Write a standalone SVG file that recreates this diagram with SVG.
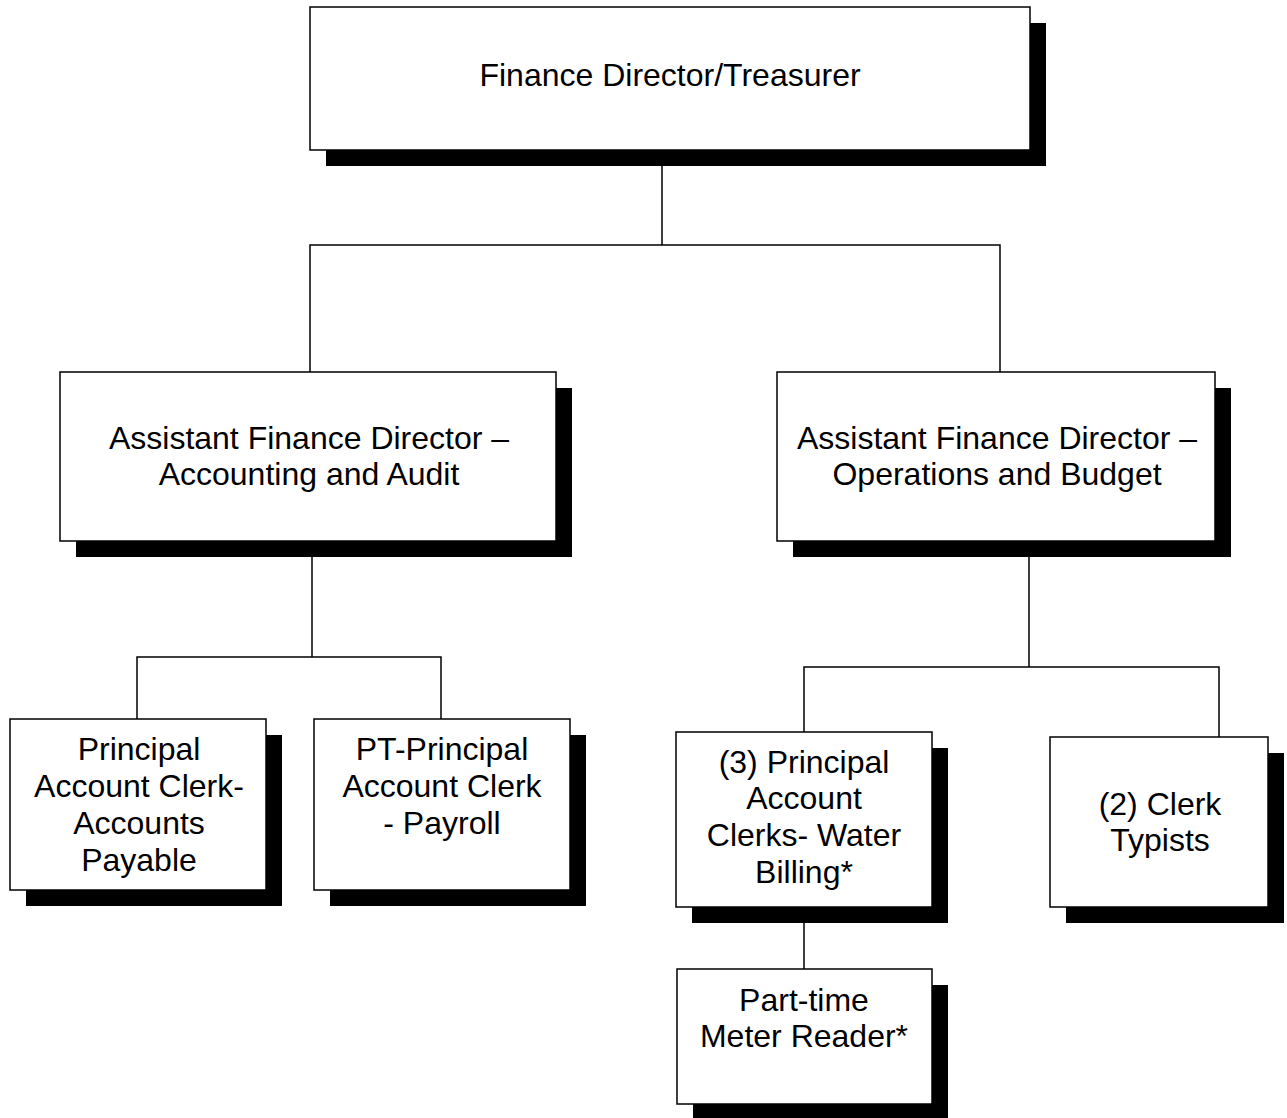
<svg xmlns="http://www.w3.org/2000/svg" width="1287" height="1118" viewBox="0 0 1287 1118">
<style>
.box{fill:#fff;stroke:#000;stroke-width:1.5}
.sh{fill:#000}
.t{font-family:"Liberation Sans",Arial,sans-serif;font-size:32px;fill:#000;text-anchor:middle}
.c{fill:none;stroke:#000;stroke-width:1.5}
</style>
<rect width="1287" height="1118" fill="#fff"/>
<g id="connectors">
<path class="c" d="M662,165 V245 M310,372 V245 H1000 V372"/>
<path class="c" d="M312,557 V657 M137,719 V657 H441 V719"/>
<path class="c" d="M1029,557 V667 M804,732 V667 H1219 V737"/>
<path class="c" d="M804,923 V969"/>
</g>
<g id="n1">
<rect class="sh" x="326" y="23" width="720" height="143"/>
<rect class="box" x="310" y="7" width="720" height="143"/>
<text class="t" x="670" y="86">Finance Director/Treasurer</text>
</g>
<g id="n2">
<rect class="sh" x="76" y="388" width="496" height="169"/>
<rect class="box" x="60" y="372" width="496" height="169"/>
<text class="t" x="309" y="449">Assistant Finance Director –</text>
<text class="t" x="309" y="485">Accounting and Audit</text>
</g>
<g id="n3">
<rect class="sh" x="793" y="388" width="438" height="169"/>
<rect class="box" x="777" y="372" width="438" height="169"/>
<text class="t" x="997" y="449">Assistant Finance Director –</text>
<text class="t" x="997" y="485">Operations and Budget</text>
</g>
<g id="n4">
<rect class="sh" x="26" y="735" width="256" height="171"/>
<rect class="box" x="10" y="719" width="256" height="171"/>
<text class="t" x="139" y="760">Principal</text>
<text class="t" x="139" y="797">Account Clerk-</text>
<text class="t" x="139" y="834">Accounts</text>
<text class="t" x="139" y="871">Payable</text>
</g>
<g id="n5">
<rect class="sh" x="330" y="735" width="256" height="171"/>
<rect class="box" x="314" y="719" width="256" height="171"/>
<text class="t" x="442" y="760">PT-Principal</text>
<text class="t" x="442" y="797">Account Clerk</text>
<text class="t" x="442" y="834">- Payroll</text>
</g>
<g id="n6">
<rect class="sh" x="692" y="748" width="256" height="175"/>
<rect class="box" x="676" y="732" width="256" height="175"/>
<text class="t" x="804" y="773">(3) Principal</text>
<text class="t" x="804" y="809">Account</text>
<text class="t" x="804" y="846">Clerks- Water</text>
<text class="t" x="804" y="883">Billing*</text>
</g>
<g id="n7">
<rect class="sh" x="1066" y="753" width="218" height="170"/>
<rect class="box" x="1050" y="737" width="218" height="170"/>
<text class="t" x="1160" y="815">(2) Clerk</text>
<text class="t" x="1160" y="851">Typists</text>
</g>
<g id="n8">
<rect class="sh" x="693" y="985" width="255" height="135"/>
<rect class="box" x="677" y="969" width="255" height="135"/>
<text class="t" x="804" y="1011">Part-time</text>
<text class="t" x="804" y="1047">Meter Reader*</text>
</g>
</svg>
